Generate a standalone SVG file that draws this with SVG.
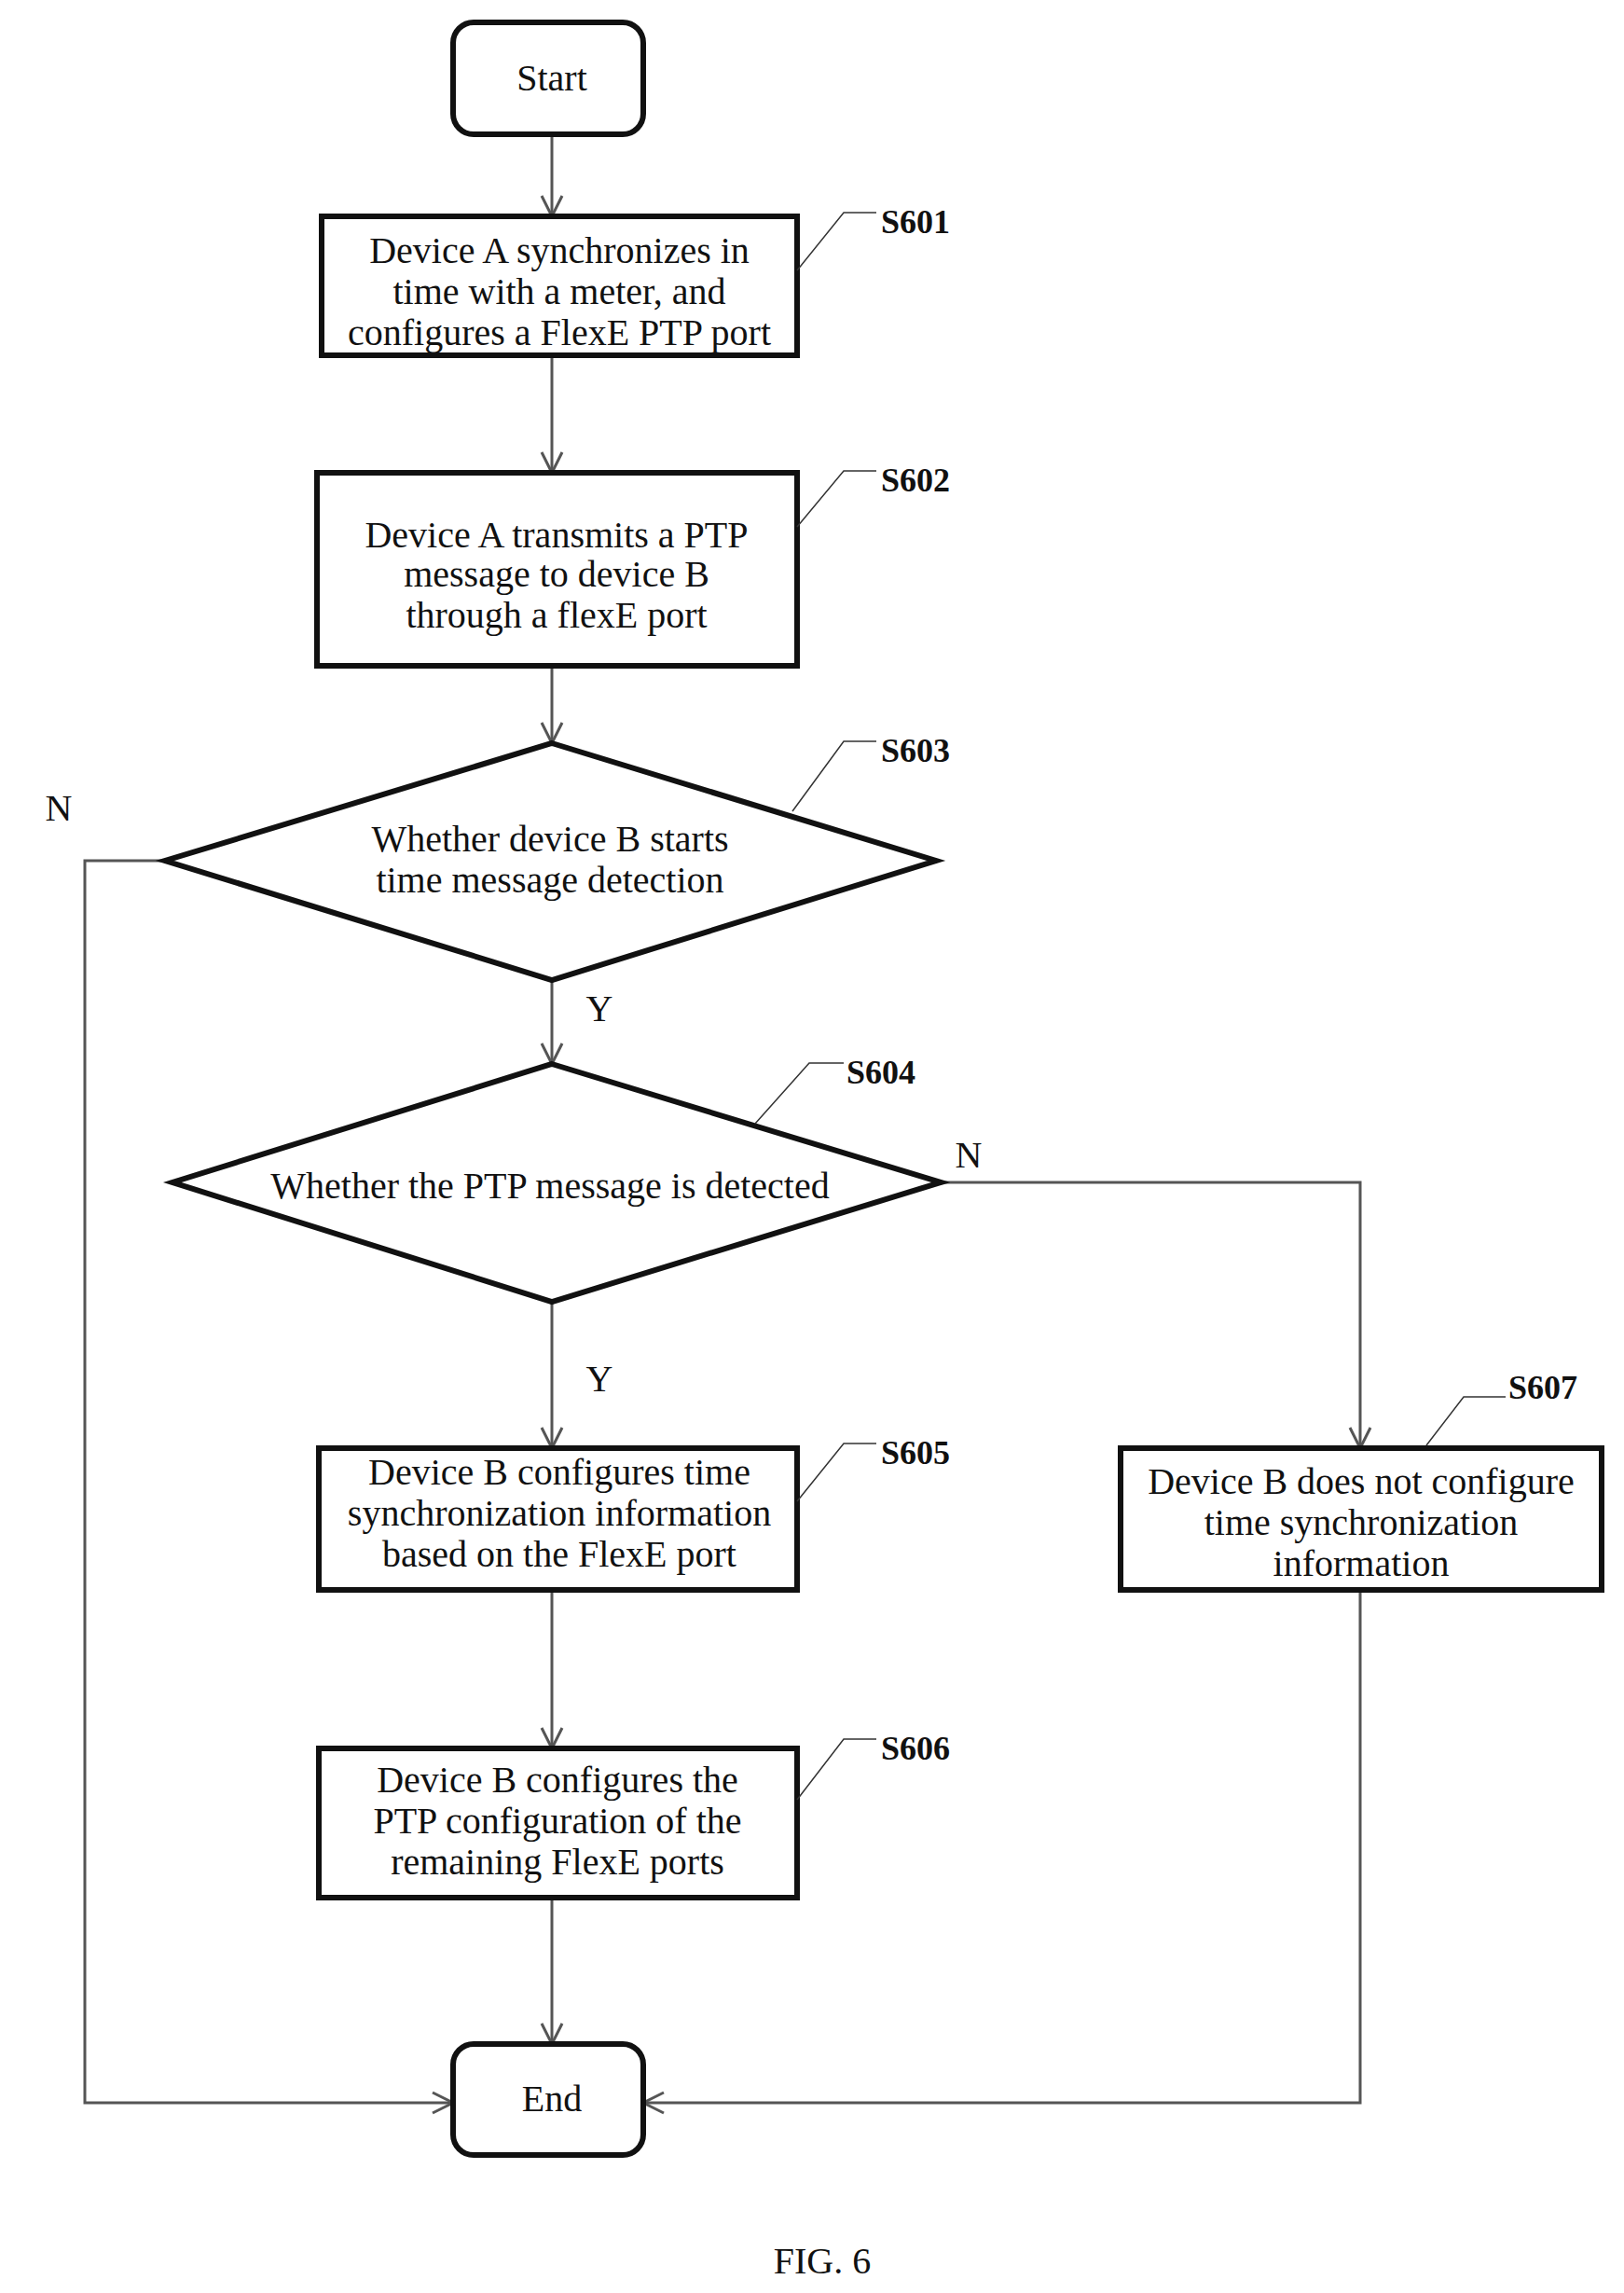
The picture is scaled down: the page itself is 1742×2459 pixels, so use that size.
<svg xmlns="http://www.w3.org/2000/svg" width="1742" height="2459" viewBox="0 0 1742 2459">
<defs>
<style>
.b{fill:#fff;stroke:#111;stroke-width:6}
.t{font-family:"Liberation Serif",serif;font-size:40px;fill:#111;text-anchor:middle}
.s{font-family:"Liberation Serif",serif;font-size:36px;font-weight:bold;fill:#111}
.c{fill:none;stroke:#555;stroke-width:3}
.l{fill:none;stroke:#333;stroke-width:1.5}
</style>
<marker id="a" markerWidth="30" markerHeight="30" refX="26" refY="15" orient="auto" markerUnits="userSpaceOnUse">
<path d="M4,4 L26,15 L4,26" fill="none" stroke="#555" stroke-width="3"/>
</marker>
</defs>
<rect width="1742" height="2459" fill="#fff"/>
<g id="connectors">
<path class="c" d="M592,144 V232" marker-end="url(#a)"/>
<path class="c" d="M592,381 V507" marker-end="url(#a)"/>
<path class="c" d="M592,714 V797" marker-end="url(#a)"/>
<path class="c" d="M592,1051 V1141" marker-end="url(#a)"/>
<path class="c" d="M592,1396 V1553" marker-end="url(#a)"/>
<path class="c" d="M592,1705 V1875" marker-end="url(#a)"/>
<path class="c" d="M592,2035 V2192" marker-end="url(#a)"/>
<path class="c" d="M177,923 H91 V2255 H486" marker-end="url(#a)"/>
<path class="c" d="M1009,1268 H1459 V1553" marker-end="url(#a)"/>
<path class="c" d="M1459,1705 V2255 H690" marker-end="url(#a)"/>
<text class="t" x="63" y="880">N</text>
<text class="t" x="643" y="1095">Y</text>
<text class="t" x="1039" y="1252">N</text>
<text class="t" x="643" y="1492">Y</text>
</g>
<g id="start"><rect class="b" x="486" y="24" width="204" height="120" rx="22"/><text class="t" x="592" y="97">Start</text></g>
<g id="s601"><rect class="b" x="345" y="232" width="510" height="149"/>
<text class="t" x="600" y="282">Device A synchronizes in</text><text class="t" x="600" y="326">time with a meter, and</text><text class="t" x="600" y="370">configures a FlexE PTP port</text>
<path class="l" d="M855,290 L905,228 H940"/><text class="s" x="945" y="250">S601</text></g>
<g id="s602"><rect class="b" x="340" y="507" width="515" height="207"/>
<text class="t" x="597" y="587">Device A transmits a PTP</text><text class="t" x="597" y="629">message to device B</text><text class="t" x="597" y="673">through a flexE port</text>
<path class="l" d="M855,565 L905,505 H940"/><text class="s" x="945" y="527">S602</text></g>
<g id="s603"><path class="b" d="M592,797 L1004,923 L592,1051 L177,923 Z"/>
<text class="t" x="590" y="913">Whether device B starts</text><text class="t" x="590" y="957">time message detection</text>
<path class="l" d="M850,870 L905,795 H940"/><text class="s" x="945" y="817">S603</text></g>
<g id="s604"><path class="b" d="M592,1141 L1009,1268 L592,1396 L185,1268 Z"/>
<text class="t" x="590" y="1285">Whether the PTP message is detected</text>
<path class="l" d="M810,1205 L868,1140 H905"/><text class="s" x="908" y="1162">S604</text></g>
<g id="s605"><rect class="b" x="342" y="1553" width="513" height="152"/>
<text class="t" x="600" y="1592">Device B configures time</text><text class="t" x="600" y="1636">synchronization information</text><text class="t" x="600" y="1680">based on the FlexE port</text>
<path class="l" d="M855,1610 L905,1548 H940"/><text class="s" x="945" y="1570">S605</text></g>
<g id="s606"><rect class="b" x="342" y="1875" width="513" height="160"/>
<text class="t" x="598" y="1922">Device B configures the</text><text class="t" x="598" y="1966">PTP configuration of the</text><text class="t" x="598" y="2010">remaining FlexE ports</text>
<path class="l" d="M855,1930 L905,1865 H940"/><text class="s" x="945" y="1887">S606</text></g>
<g id="s607"><rect class="b" x="1202" y="1553" width="516" height="152"/>
<text class="t" x="1460" y="1602">Device B does not configure</text><text class="t" x="1460" y="1646">time synchronization</text><text class="t" x="1460" y="1690">information</text>
<path class="l" d="M1530,1550 L1570,1498 H1615"/><text class="s" x="1618" y="1500">S607</text></g>
<g id="end"><rect class="b" x="486" y="2192" width="204" height="119" rx="22"/><text class="t" x="592" y="2264">End</text></g>
<text class="t" x="882" y="2438">FIG. 6</text>
</svg>
